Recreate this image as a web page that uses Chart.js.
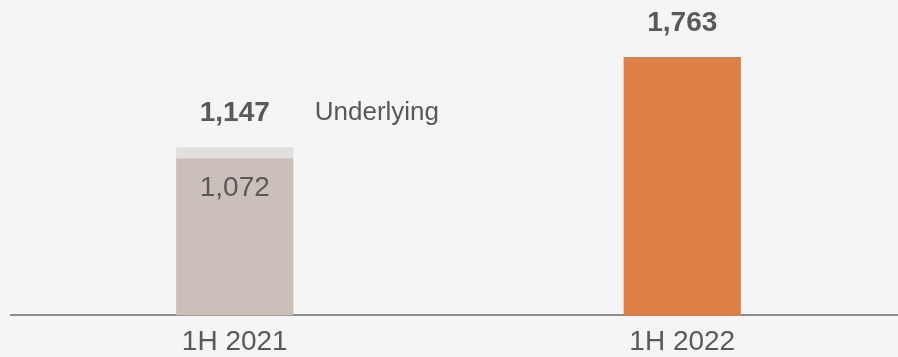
<!DOCTYPE html>
<html>
<head>
<meta charset="utf-8">
<script src="https://cdn.jsdelivr.net/npm/chart.js@4/dist/chart.umd.min.js"></script>
<style>
  html, body { margin: 0; padding: 0; background: #f5f5f5; overflow: hidden; }
  #wrap { position: relative; width: 906px; height: 369px; }
</style>
</head>
<body>
<div id="wrap"><canvas id="c"></canvas></div>
<script>
// data
var categories = ['1H 2021', '1H 2022'];
var reportedValues = [1072, 1763];
var underlyingValues = [1147, null];
var reportedColors = ['#cbbfba', '#dd8047'];
var insideLabels = ['1,072', null];
var sideNote = 'Underlying';

// extra bit on top of reported to reach underlying
var upliftValues = underlyingValues.map(function(u, i){
    return u === null ? 0 : u - reportedValues[i];
});
var totals = reportedValues.map(function(r, i){
    return underlyingValues[i] === null ? r : underlyingValues[i];
});

function fmt(n){
    return n.toLocaleString('en-US');
}

var textColor = '#595959';
var fontFamily = '"Liberation Sans", Arial, sans-serif';

var labelPlugin = {
    id: 'barLabels',
    afterDatasetsDraw: function(chart){
        var ctx = chart.ctx;
        var x = chart.scales.x, y = chart.scales.y;
        ctx.save();
        ctx.fillStyle = textColor;
        ctx.textBaseline = 'middle';
        totals.forEach(function(t, i){
            var px = x.getPixelForValue(i);
            var top = y.getPixelForValue(t);
            ctx.font = 'bold 28px ' + fontFamily;
            ctx.textAlign = 'center';
            ctx.fillText(fmt(t), px, top - 34);
            if(underlyingValues[i] !== null){
                ctx.font = '26px ' + fontFamily;
                ctx.textAlign = 'left';
                ctx.fillText(sideNote, px + 80, top - 34);
            }
            if(insideLabels[i]){
                ctx.font = '28px ' + fontFamily;
                ctx.textAlign = 'center';
                ctx.fillText(insideLabels[i], px, y.getPixelForValue(reportedValues[i]) + 30);
            }
        });
        ctx.restore();
    }
};

new Chart(document.getElementById('c'), {
    type: 'bar',
    data: {
        labels: categories,
        datasets: [
            {
                label: 'Reported',
                data: reportedValues,
                backgroundColor: reportedColors,
                barPercentage: 0.262,
                categoryPercentage: 1
            },
            {
                label: 'Underlying',
                data: upliftValues,
                backgroundColor: '#e2e0df',
                barPercentage: 0.262,
                categoryPercentage: 1
            }
        ]
    },
    options: {
        responsive: true,
        maintainAspectRatio: false,
        animation: false,
        layout: { padding: { left: 11, right: 0, top: 57, bottom: 0 } },
        plugins: {
            legend: { display: false },
            tooltip: { enabled: false }
        },
        scales: {
            x: {
                stacked: true,
                grid: { display: false, drawTicks: false },
                border: { display: true, color: '#8c8c8c', width: 2 },
                ticks: {
                    color: textColor,
                    padding: 10,
                    font: { family: fontFamily, size: 28 }
                }
            },
            y: {
                stacked: true,
                display: false,
                min: 0,
                max: Math.max.apply(null, totals)
            }
        }
    },
    plugins: [labelPlugin]
});
</script>
</body>
</html>
